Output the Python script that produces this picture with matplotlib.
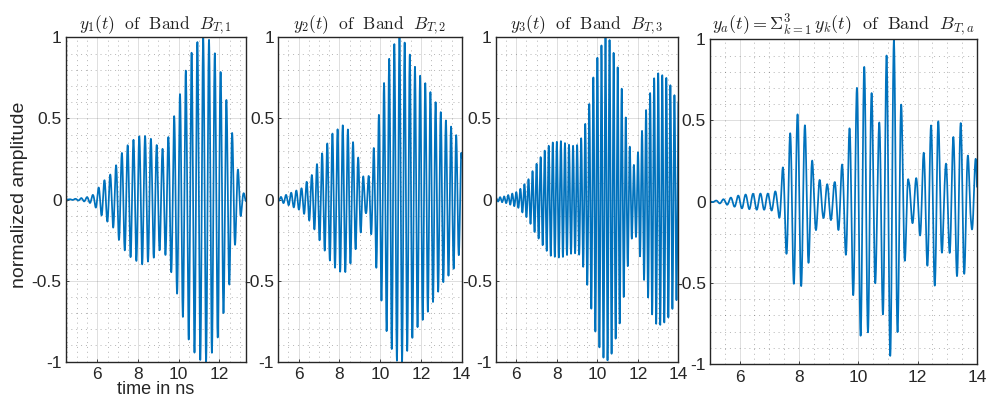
import numpy as np
import matplotlib
matplotlib.use("Agg")
import matplotlib.pyplot as plt
from matplotlib.ticker import MultipleLocator, FuncFormatter

# ---- data (envelope knots in ns / normalized amplitude) ----
t1_knots = [4.44, 5.0, 5.5, 5.8, 6.27, 6.76, 7.25, 7.66, 8.2, 8.7, 9.14, 9.43, 9.7, 10.02,
            10.26, 10.5, 10.83, 11.14, 11.43, 11.72, 12.0, 12.3, 12.54, 12.8, 13.14, 13.29]
a1_knots = [0.0, 0.005, 0.015, 0.03, 0.11, 0.17, 0.3, 0.36, 0.4, 0.37, 0.3, 0.36, 0.48, 0.63,
            0.755, 0.87, 0.96, 1.0, 1.0, 0.92, 0.82, 0.64, 0.49, 0.25, 0.05, 0.02]
f1_ghz = 3.5

t2_knots = [5.0, 5.41, 6.15, 6.64, 7.13, 7.67, 8.19, 8.43, 8.68, 8.97, 9.22, 9.3, 9.54, 9.82,
            10.07, 10.31, 10.56, 10.84, 11.08, 11.34, 11.62, 11.86, 12.1, 12.35, 12.6, 12.88,
            13.14, 13.42, 13.7, 13.96, 14.0]
a2_knots = [0.01, 0.03, 0.07, 0.15, 0.28, 0.41, 0.46, 0.43, 0.35, 0.24, 0.12, 0.08, 0.2, 0.43,
            0.63, 0.81, 0.92, 1.0, 1.0, 0.93, 0.84, 0.78, 0.74, 0.69, 0.63, 0.56,
            0.5, 0.46, 0.41, 0.3, 0.28]
f2_ghz = 3.95

t3_knots = [5.0, 5.44, 6.09, 6.58, 6.9, 7.39, 7.72, 8.2, 8.53, 8.85, 9.1, 9.34, 9.59, 9.78,
            9.99, 10.2, 10.4, 10.64, 10.85, 11.08, 11.29, 11.5, 11.7, 11.85, 12.1, 12.32,
            12.55, 12.76, 12.97, 13.16, 13.4, 13.62, 13.81, 14.0]
a3_knots = [0.01, 0.02, 0.05, 0.12, 0.2, 0.3, 0.35, 0.36, 0.34, 0.33, 0.34, 0.43, 0.58, 0.74,
            0.87, 0.95, 1.0, 0.98, 0.88, 0.78, 0.61, 0.41, 0.24, 0.2, 0.35, 0.51,
            0.63, 0.74, 0.78, 0.77, 0.75, 0.7, 0.64, 0.6]
f3_ghz = 5.0

t4_knots = [5.0, 5.6, 6.0, 6.5, 7.0, 7.3, 7.55, 7.8, 8.0, 8.25, 8.5, 8.8, 9.2, 9.5, 9.8, 10.1,
            10.35, 10.65, 10.95, 11.2, 11.42, 11.7, 12.0, 12.4, 12.66, 12.9, 13.28, 13.53,
            13.8, 14.0]
a4_knots = [0.0, 0.02, 0.04, 0.05, 0.05, 0.07, 0.3, 0.5, 0.55, 0.45, 0.2, 0.1, 0.12, 0.25,
            0.55, 0.85, 0.8, 0.4, 0.9, 1.0, 0.65, 0.12, 0.15, 0.45, 0.55, 0.2, 0.45, 0.5,
            0.15, 0.3]
f4_ghz = 4.0

xlims = [(4.44, 13.29), (5, 14), (5, 14), (5, 14)]
titles = [r"$y_1(t)\ \ \mathrm{of\ \ Band}\ \ B_{T,1}$",
          r"$y_2(t)\ \ \mathrm{of\ \ Band}\ \ B_{T,2}$",
          r"$y_3(t)\ \ \mathrm{of\ \ Band}\ \ B_{T,3}$",
          r"$y_a(t) = \Sigma_{k=1}^{3}\, y_k(t)\ \ \mathrm{of\ \ Band}\ \ B_{T,a}$"]
y_ticks = [-1, -0.5, 0, 0.5, 1]
ylabel_text = "normalized amplitude"
xlabel_text = "time in ns"

# ---- style ----
plt.rcParams["mathtext.fontset"] = "cm"
plt.rcParams["font.family"] = ["Liberation Sans", "DejaVu Sans"]
plt.rcParams["axes.unicode_minus"] = False

W, H = 987, 398
fig = plt.figure(figsize=(W / 100, H / 100), dpi=100)

# axes boxes in pixels: left, top, right, bottom
boxes = [(65.7, 37.3, 245.7, 361.7),
         (278.3, 37.3, 461.7, 361.7),
         (496.0, 37.3, 678.5, 361.7),
         (710.0, 39.3, 977.0, 364.0)]

series = [(t1_knots, a1_knots, f1_ghz), (t2_knots, a2_knots, f2_ghz),
          (t3_knots, a3_knots, f3_ghz), (t4_knots, a4_knots, f4_ghz)]

line_color = "#0072BD"
dark = "#262626"

axes = []
for i, ((l, t, r, b), (tk, ak, f), xl, ttl) in enumerate(zip(boxes, series, xlims, titles)):
    ax = fig.add_axes([l / W, 1 - b / H, (r - l) / W, (b - t) / H])
    tt = np.linspace(xl[0], xl[1], 4000)
    env = np.interp(tt, tk, ak)
    yy = env * np.cos(2 * np.pi * f * (tt - 11.2))
    ax.plot(tt, yy, color=line_color, lw=1.25)
    ax.set_xlim(*xl)
    ax.set_ylim(-1, 1)
    ax.xaxis.set_major_locator(MultipleLocator(2))
    ax.xaxis.set_minor_locator(MultipleLocator(0.5))
    ax.set_yticks(y_ticks)
    ax.yaxis.set_minor_locator(MultipleLocator(0.1))
    ax.yaxis.set_major_formatter(FuncFormatter(lambda v, p: "%g" % v))
    ax.grid(which="major", color=dark, alpha=0.15, lw=0.7)
    ax.grid(which="minor", color=dark, alpha=0.35, lw=0.7, linestyle=(0, (1, 4)))
    ax.set_axisbelow(True)
    ax.tick_params(which="major", direction="in", length=2.5, width=0.6, color=dark,
                   labelsize=12.5, labelcolor=dark)
    ax.tick_params(axis="x", pad=4)
    ax.tick_params(axis="y", pad=3)
    ax.tick_params(which="minor", length=0)
    for s in ax.spines.values():
        s.set_color(dark)
        s.set_linewidth(1.0)
    ax.set_title(ttl, fontsize=13 if i == 3 else 12.5, color="#222222", pad=4)
    axes.append(ax)

fig.text(20 / W, 1 - 195 / H, ylabel_text, rotation=90, ha="center", va="center",
         fontsize=14, color=dark)
fig.text(155.7 / W, 1 - 393.5 / H, xlabel_text, ha="center", va="baseline",
         fontsize=13, color=dark)

fig.savefig("out.png", dpi=100)
